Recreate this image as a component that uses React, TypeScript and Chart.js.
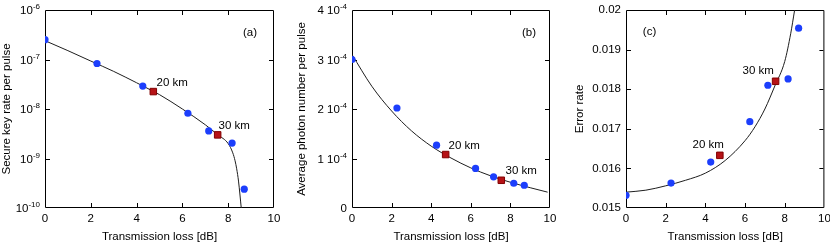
import React, { useEffect, useRef } from 'react';
import { Chart, registerables } from 'chart.js';

Chart.register(...registerables);

const FONT = "'Liberation Sans', Arial, Helvetica, sans-serif";
const FS = 11.5;

// ---- shared x values (transmission loss, dB) ----
const lossMeasured = [0, 2.27, 4.27, 6.24, 7.15, 8.17, 8.7];
const lossSelected = [4.73, 7.54];
const xInnerTicks = [2, 4, 6, 8];

// ---- (a) secure key rate per pulse ----
const keyRateMeasured = [2.52e-7, 8.3e-8, 2.9e-8, 8.2e-9, 3.6e-9, 2.05e-9, 2.4e-10];
const keyRateSelected = [2.25e-8, 3.0e-9];
const keyRateTheoryLoss = [0, 1, 2, 3, 4, 4.75, 5, 6, 7, 7.55, 8, 8.2, 8.3, 8.37, 8.45, 8.57];
const keyRateTheory = [2.4e-7, 1.51e-7, 9.3e-8, 5.75e-8, 3.39e-8, 2.25e-8, 1.95e-8, 1.0e-8, 4.8e-9, 3.0e-9, 2.0e-9, 1.3e-9, 9e-10, 6.2e-10, 3.5e-10, 1e-10];
const keyRateTickValues = [1e-6, 1e-7, 1e-8, 1e-9, 1e-10];
const keyRateTickMain = ['10', '10', '10', '10', '10'];
const keyRateTickSup = ['-6', '-7', '-8', '-9', '-10'];

// ---- (b) average photon number per pulse ----
const photonMeasured = [3.0e-4, 2.02e-4, 1.27e-4, 0.8e-4, 0.63e-4, 0.5e-4, 0.46e-4];
const photonSelected = [1.08e-4, 0.56e-4];
const photonTheoryLoss = [0, 1, 2, 3, 4, 5, 6, 7, 8, 9, 9.88];
const photonTheory = [3.1e-4, 2.46e-4, 1.96e-4, 1.56e-4, 1.25e-4, 1.01e-4, 0.81e-4, 0.65e-4, 0.52e-4, 0.41e-4, 0.32e-4];
const photonTickValues = [0, 1e-4, 2e-4, 3e-4, 4e-4];
const photonTickMain = ['0', '1 10', '2 10', '3 10', '4 10'];
const photonTickSup = ['', '-4', '-4', '-4', '-4'];

// ---- (c) error rate ----
const errorMeasured = [0.01532, 0.01563, 0.01616, 0.01718, 0.0181, 0.01826, 0.01954];
const errorSelected = [0.01633, 0.0182];
const errorTheoryLoss = [0, 1, 2, 3, 4, 5, 6, 6.5, 7, 7.5, 8, 8.3, 8.5];
const errorTheory = [0.0154, 0.01545, 0.01556, 0.0157, 0.01588, 0.0162, 0.0167, 0.01705, 0.0175, 0.01808, 0.0187, 0.0194, 0.02];
const errorInnerTicks = [0.016, 0.017, 0.018, 0.019];

const BLUE = 'rgb(28, 62, 252)';
const RED = 'rgb(182, 18, 22)';
const RED_EDGE = 'rgb(130, 0, 0)';
const LINE = '#1e1e1e';

const pts = (xs: number[], ys: number[]) => xs.map((x, i) => ({ x, y: ys[i] }));

function datasets(mx: number[], my: number[], sx: number[], sy: number[], tx: number[], ty: number[]) {
  return [
    { data: pts(sx, sy), pointStyle: 'rect', pointRadius: 4.6, backgroundColor: RED, borderColor: RED_EDGE, borderWidth: 1, showLine: false },
    { data: pts(mx, my), pointStyle: 'circle', pointRadius: 3.6, backgroundColor: BLUE, borderColor: BLUE, borderWidth: 0, showLine: false },
    { data: pts(tx, ty), pointRadius: 0, borderColor: LINE, borderWidth: 1, showLine: true, cubicInterpolationMode: 'monotone', fill: false },
  ];
}

type Note = { text: string; x: number; y: number; align: CanvasTextAlign };
type DecorCfg = {
  yInnerTicks: number[];
  yLabels?: { value: number; main: string; sup: string }[];
  notes: Note[];
};

function makeDecor(cfg: DecorCfg) {
  return {
    id: 'decor',
    beforeDatasetsDraw(chart: any) {
      const { ctx, chartArea: a } = chart;
      const xs = chart.scales.x;
      const ys = chart.scales.y;
      const L = 4;
      ctx.save();
      ctx.strokeStyle = '#000';
      ctx.lineWidth = 1;
      ctx.beginPath();
      ctx.rect(a.left + 0.5, a.top + 0.5, a.right - a.left - 1, a.bottom - a.top - 1);
      for (const v of xInnerTicks) {
        const x = Math.round(xs.getPixelForValue(v)) + 0.5;
        ctx.moveTo(x, a.bottom - 1);
        ctx.lineTo(x, a.bottom - 1 - L);
        ctx.moveTo(x, a.top + 1);
        ctx.lineTo(x, a.top + 1 + L);
      }
      for (const v of cfg.yInnerTicks) {
        const y = Math.round(ys.getPixelForValue(v)) + 0.5;
        ctx.moveTo(a.left + 1, y);
        ctx.lineTo(a.left + 1 + L, y);
        ctx.moveTo(a.right - 1, y);
        ctx.lineTo(a.right - 1 - L, y);
      }
      ctx.stroke();
      ctx.restore();
    },
    afterDraw(chart: any) {
      const { ctx, chartArea: a } = chart;
      const ys = chart.scales.y;
      ctx.save();
      ctx.fillStyle = '#000';
      if (cfg.yLabels) {
        for (const lab of cfg.yLabels) {
          const y = ys.getPixelForValue(lab.value);
          ctx.font = `${FS}px ${FONT}`;
          const wm = ctx.measureText(lab.main).width;
          ctx.font = `8px ${FONT}`;
          const wsup = lab.sup ? ctx.measureText(lab.sup).width : 0;
          const xEnd = a.left - 5;
          ctx.textAlign = 'left';
          ctx.textBaseline = 'alphabetic';
          ctx.font = `${FS}px ${FONT}`;
          ctx.fillText(lab.main, xEnd - wsup - wm, y + 4);
          if (lab.sup) {
            ctx.font = `8px ${FONT}`;
            ctx.fillText(lab.sup, xEnd - wsup, y - 0.6);
          }
        }
      }
      ctx.font = `${FS}px ${FONT}`;
      ctx.textBaseline = 'middle';
      for (const n of cfg.notes) {
        ctx.textAlign = n.align;
        ctx.fillText(n.text, n.x, n.y);
      }
      ctx.restore();
    },
  };
}

function makeConfig(opts: {
  data: any[];
  yScale: any;
  yWidth: number;
  padRight: number;
  yTitle: string;
  yTitlePad: number;
  decor: DecorCfg;
}) {
  const font = { family: FONT, size: FS };
  return {
    type: 'scatter',
    data: { datasets: opts.data },
    options: {
      responsive: false,
      animation: false,
      devicePixelRatio: 1,
      events: [],
      layout: { padding: { left: 0, top: 10, right: opts.padRight, bottom: 0 } },
      plugins: { legend: { display: false }, tooltip: { enabled: false } },
      scales: {
        x: {
          type: 'linear',
          min: 0,
          max: 10,
          grid: { display: false, drawTicks: false },
          border: { display: false },
          ticks: { stepSize: 2, font, color: '#000', padding: 4, maxRotation: 0, autoSkip: false },
          title: { display: true, text: 'Transmission loss [dB]', font, color: '#000', padding: { top: 0, bottom: 0 } },
          afterFit: (s: any) => {
            s.height = 36;
            s.paddingLeft = 0;
            s.paddingRight = 0;
          },
        },
        y: {
          ...opts.yScale,
          grid: { display: false, drawTicks: false },
          border: { display: false },
          title: { display: true, text: opts.yTitle, font, color: '#000', padding: { top: opts.yTitlePad, bottom: 0 } },
          afterFit: (s: any) => {
            s.width = opts.yWidth;
            s.paddingTop = 0;
            s.paddingBottom = 0;
          },
        },
      },
    },
    plugins: [makeDecor(opts.decor)],
  };
}

function Panel({ left, width, config }: { left: number; width: number; config: () => any }) {
  const ref = useRef<HTMLCanvasElement>(null);
  useEffect(() => {
    const chart = new Chart(ref.current as HTMLCanvasElement, config());
    return () => chart.destroy();
  }, []);
  return (
    <canvas
      ref={ref}
      width={width}
      height={244}
      style={{ position: 'absolute', left, top: 0, width, height: 244 }}
    />
  );
}

const configA = () =>
  makeConfig({
    data: datasets(lossMeasured, keyRateMeasured, lossSelected, keyRateSelected, keyRateTheoryLoss, keyRateTheory),
    yScale: { type: 'logarithmic', min: 1e-10, max: 1e-6, ticks: { display: false } },
    yWidth: 45,
    padRight: 6,
    yTitle: 'Secure key rate per pulse',
    yTitlePad: 0,
    decor: {
      yInnerTicks: [1e-7, 1e-8, 1e-9],
      yLabels: keyRateTickValues.map((v, i) => ({ value: v, main: keyRateTickMain[i], sup: keyRateTickSup[i] })),
      notes: [
        { text: '(a)', x: 250, y: 32.5, align: 'center' },
        { text: '20 km', x: 156.5, y: 83, align: 'left' },
        { text: '30 km', x: 218.5, y: 126, align: 'left' },
      ],
    },
  });

const configB = () =>
  makeConfig({
    data: datasets(lossMeasured, photonMeasured, lossSelected, photonSelected, photonTheoryLoss, photonTheory),
    yScale: { type: 'linear', min: 0, max: 4e-4, ticks: { display: false } },
    yWidth: 72,
    padRight: 10,
    yTitle: 'Average photon number per pulse',
    yTitlePad: 15,
    decor: {
      yInnerTicks: [1e-4, 2e-4, 3e-4],
      yLabels: photonTickValues.map((v, i) => ({ value: v, main: photonTickMain[i], sup: photonTickSup[i] })),
      notes: [
        { text: '(b)', x: 249, y: 32.5, align: 'center' },
        { text: '20 km', x: 168.5, y: 146, align: 'left' },
        { text: '30 km', x: 225.5, y: 171, align: 'left' },
      ],
    },
  });

const configC = () =>
  makeConfig({
    data: datasets(lossMeasured, errorMeasured, lossSelected, errorSelected, errorTheoryLoss, errorTheory),
    yScale: {
      type: 'linear',
      min: 0.015,
      max: 0.02,
      ticks: {
        stepSize: 0.001,
        font: { family: FONT, size: FS },
        color: '#000',
        padding: 5,
        callback: (v: number) => String(Number(Number(v).toFixed(3))),
      },
    },
    yWidth: 66,
    padRight: 5,
    yTitle: 'Error rate',
    yTitlePad: 13,
    decor: {
      yInnerTicks: errorInnerTicks,
      notes: [
        { text: '(c)', x: 89.5, y: 32, align: 'center' },
        { text: '20 km', x: 132.5, y: 144.7, align: 'left' },
        { text: '30 km', x: 182.5, y: 70.5, align: 'left' },
      ],
    },
  });

export default function App() {
  return (
    <div style={{ position: 'absolute', left: 0, top: 0, width: 830, height: 244, background: '#fff' }}>
      <Panel left={0} width={280} config={configA} />
      <Panel left={280} width={280} config={configB} />
      <Panel left={560} width={270} config={configC} />
    </div>
  );
}
